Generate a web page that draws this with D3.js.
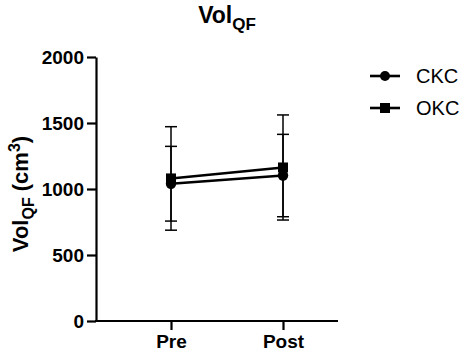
<!DOCTYPE html>
<html>
<head>
<meta charset="utf-8">
<script src="https://cdn.jsdelivr.net/npm/d3@7"></script>
<style>
  body { margin: 0; background: #fff; }
  svg { font-family: Arial, "Liberation Sans", sans-serif; }
</style>
</head>
<body>
<div id="chart"></div>
<script>
// values (mean and SD)
const groups = ["Pre", "Post"];
const ckcMean = [1040, 1102];
const ckcSd = [283, 312];
const okcMean = [1080, 1163];
const okcSd = [392, 398];
const yTicks = [0, 500, 1000, 1500, 2000];
const seriesNames = ["CKC", "OKC"];

const width = 464, height = 356;
const svg = d3.select("#chart").append("svg")
  .attr("width", width).attr("height", height);

const y = d3.scaleLinear().domain([0, 2000]).range([321, 57]);
const x = d3.scalePoint().domain(groups).range([171, 283]);
const axisLeftX = 96, axisRightX = 338;

// y axis
const yAxis = svg.append("g")
  .attr("transform", `translate(${axisLeftX},0)`)
  .call(d3.axisLeft(y).tickValues(yTicks).tickFormat(d3.format("d"))
    .tickSize(9).tickSizeOuter(0).tickPadding(3));
yAxis.select(".domain").attr("stroke", "#000").attr("stroke-width", 2.2);
yAxis.selectAll(".tick line").attr("stroke", "#000").attr("stroke-width", 2.2);
yAxis.selectAll(".tick text").attr("fill", "#000")
  .style("font-size", "19px").style("font-weight", "bold");

// x axis
const xAxis = svg.append("g")
  .attr("transform", `translate(0,${y(0)})`)
  .call(d3.axisBottom(x).tickSize(9).tickSizeOuter(0).tickPadding(5));
xAxis.select(".domain").remove();
xAxis.append("line")
  .attr("x1", axisLeftX - 1).attr("x2", axisRightX)
  .attr("stroke", "#000").attr("stroke-width", 2.2);
xAxis.selectAll(".tick line").attr("stroke", "#000").attr("stroke-width", 2.2);
xAxis.selectAll(".tick text").attr("fill", "#000")
  .style("font-size", "19px").style("font-weight", "bold");

// title
const title = svg.append("text")
  .attr("x", 227).attr("y", 23)
  .attr("text-anchor", "middle").attr("fill", "#000")
  .style("font-size", "23px").style("font-weight", "bold");
title.append("tspan").text("Vol");
title.append("tspan").attr("dy", 7).style("font-size", "17px").text("QF");

// y label
const ylab = svg.append("text")
  .attr("transform", `translate(28,194) rotate(-90)`)
  .attr("text-anchor", "middle").attr("fill", "#000")
  .style("font-size", "22px").style("font-weight", "bold");
ylab.append("tspan").text("Vol");
ylab.append("tspan").attr("dy", 6).style("font-size", "16px").text("QF");
ylab.append("tspan").attr("dy", -6).text(" (cm");
ylab.append("tspan").attr("dy", -8).style("font-size", "16px").text("3");
ylab.append("tspan").attr("dy", 8).text(")");

// error bars
function errorBars(means, sds) {
  const g = svg.append("g").attr("stroke", "#000").attr("stroke-width", 1.5);
  groups.forEach((grp, i) => {
    const cx = x(grp);
    const top = y(means[i] + sds[i]), bot = y(means[i] - sds[i]);
    g.append("line").attr("x1", cx).attr("x2", cx).attr("y1", top).attr("y2", bot);
    [top, bot].forEach(yy => {
      g.append("line").attr("x1", cx - 6).attr("x2", cx + 6).attr("y1", yy).attr("y2", yy);
    });
  });
}
errorBars(okcMean, okcSd);
errorBars(ckcMean, ckcSd);

// connecting lines
const line = d3.line().x((d, i) => x(groups[i])).y(d => y(d));
[okcMean, ckcMean].forEach(m => {
  svg.append("path").datum(m).attr("d", line)
    .attr("fill", "none").attr("stroke", "#000").attr("stroke-width", 2.6);
});

// markers
svg.selectAll(".ckc").data(ckcMean).enter().append("circle")
  .attr("cx", (d, i) => x(groups[i])).attr("cy", d => y(d)).attr("r", 5.2).attr("fill", "#000");
svg.selectAll(".okc").data(okcMean).enter().append("rect")
  .attr("x", (d, i) => x(groups[i]) - 5).attr("y", d => y(d) - 5)
  .attr("width", 10).attr("height", 10).attr("fill", "#000");

// legend
const legend = svg.append("g");
seriesNames.forEach((name, i) => {
  const ly = 76 + i * 32;
  legend.append("line").attr("x1", 370).attr("x2", 400).attr("y1", ly).attr("y2", ly)
    .attr("stroke", "#000").attr("stroke-width", 2.6);
  if (i === 0) {
    legend.append("circle").attr("cx", 385).attr("cy", ly).attr("r", 5).attr("fill", "#000");
  } else {
    legend.append("rect").attr("x", 380).attr("y", ly - 5).attr("width", 10).attr("height", 10).attr("fill", "#000");
  }
  legend.append("text").attr("x", 416).attr("y", ly + 7).attr("fill", "#000")
    .style("font-size", "20px").text(name);
});
</script>
</body>
</html>
